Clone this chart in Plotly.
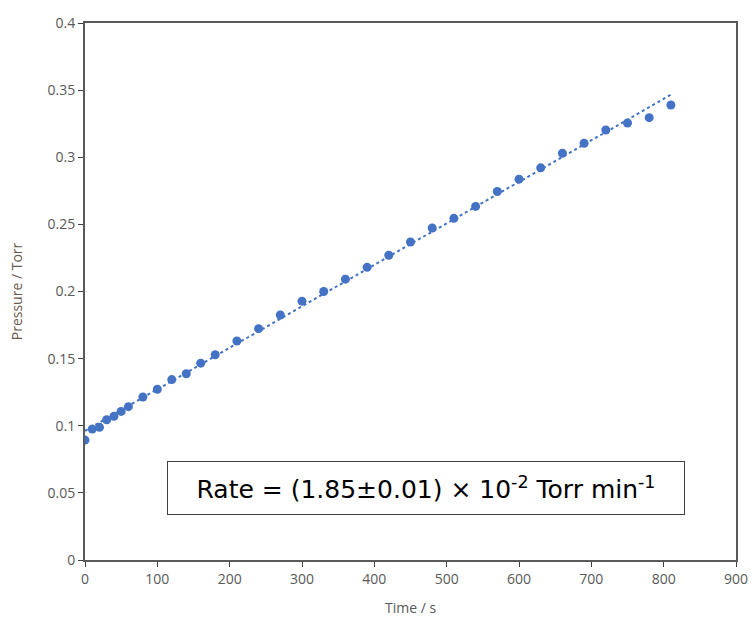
import numpy as np
import plotly.graph_objects as go

time_s = [0, 10, 20, 30, 40, 50, 60, 80, 100, 120, 140, 160, 180, 210, 240, 270, 300,
          330, 360, 390, 420, 450, 480, 510, 540, 570, 600, 630, 660, 690, 720, 750, 780, 810]
pressure_torr = [0.0893, 0.0975, 0.0988, 0.1045, 0.1070, 0.1107, 0.1142, 0.1214, 0.1272,
                 0.1344, 0.1387, 0.1466, 0.1529, 0.1631, 0.1723, 0.1825, 0.1928, 0.2000,
                 0.2092, 0.2180, 0.2270, 0.2369, 0.2473, 0.2545, 0.2634, 0.2745, 0.2837,
                 0.2921, 0.3030, 0.3104, 0.3203, 0.3255, 0.3295, 0.3389]
x_ticks = [0, 100, 200, 300, 400, 500, 600, 700, 800, 900]
y_ticks = [0, 0.05, 0.1, 0.15, 0.2, 0.25, 0.3, 0.35, 0.4]
y_tick_labels = ["0", "0.05", "0.1", "0.15", "0.2", "0.25", "0.3", "0.35", "0.4"]
rate_text = "Rate = (1.85±0.01) × 10<sup>-2</sup> Torr min<sup>-1</sup>"

slope, intercept = np.polyfit(time_s, pressure_torr, 1)
fit_x = [time_s[0], time_s[-1]]
fit_y = [intercept + slope * t for t in fit_x]

blue = "#4472C4"
fig = go.Figure()
fig.add_trace(go.Scatter(x=fit_x, y=fit_y, mode="lines",
                         line=dict(color=blue, width=2, dash="dot"), hoverinfo="skip"))
fig.add_trace(go.Scatter(x=time_s, y=pressure_torr, mode="markers",
                         marker=dict(color=blue, size=9)))

axis_font = dict(family="Open Sans, sans-serif", size=14, color="#595959")
fig.update_layout(
    width=752, height=617,
    margin=dict(l=85, r=16, t=23, b=57, autoexpand=False),
    paper_bgcolor="white", plot_bgcolor="white",
    showlegend=False,
    font=dict(family="Open Sans, sans-serif"),
    xaxis=dict(range=[0, 900], tickvals=x_ticks, showgrid=False, zeroline=False,
               automargin=False,
               showline=True, linecolor="#595959", linewidth=2, mirror=True,
               ticks="outside", ticklen=5, tickcolor="#404040", tickwidth=1,
               tickfont=axis_font,
               title=dict(text="Time / s", font=dict(family="Open Sans, sans-serif", size=14, color="#595959"), standoff=18)),
    yaxis=dict(range=[0, 0.4], tickvals=y_ticks, ticktext=y_tick_labels, showgrid=False,
               automargin=False,
               zeroline=False, showline=True, linecolor="#595959", linewidth=2, mirror=True,
               ticks="outside", ticklen=5, tickcolor="#404040", tickwidth=1,
               tickfont=axis_font,
               title=dict(text="Pressure / Torr", font=dict(family="Open Sans, sans-serif", size=14, color="#6b5a4e"), standoff=22)),
)
fig.add_annotation(x=472, y=0.0535, xref="x", yref="y", text=rate_text, showarrow=False,
                   font=dict(family="DejaVu Sans, sans-serif", size=25, color="black"),
                   bordercolor="#404040", borderwidth=1, borderpad=8, bgcolor="white",
                   width=500, height=36)
fig.write_html("out.html", config={"displayModeBar": False},
               post_script="document.body.style.margin='0';")
